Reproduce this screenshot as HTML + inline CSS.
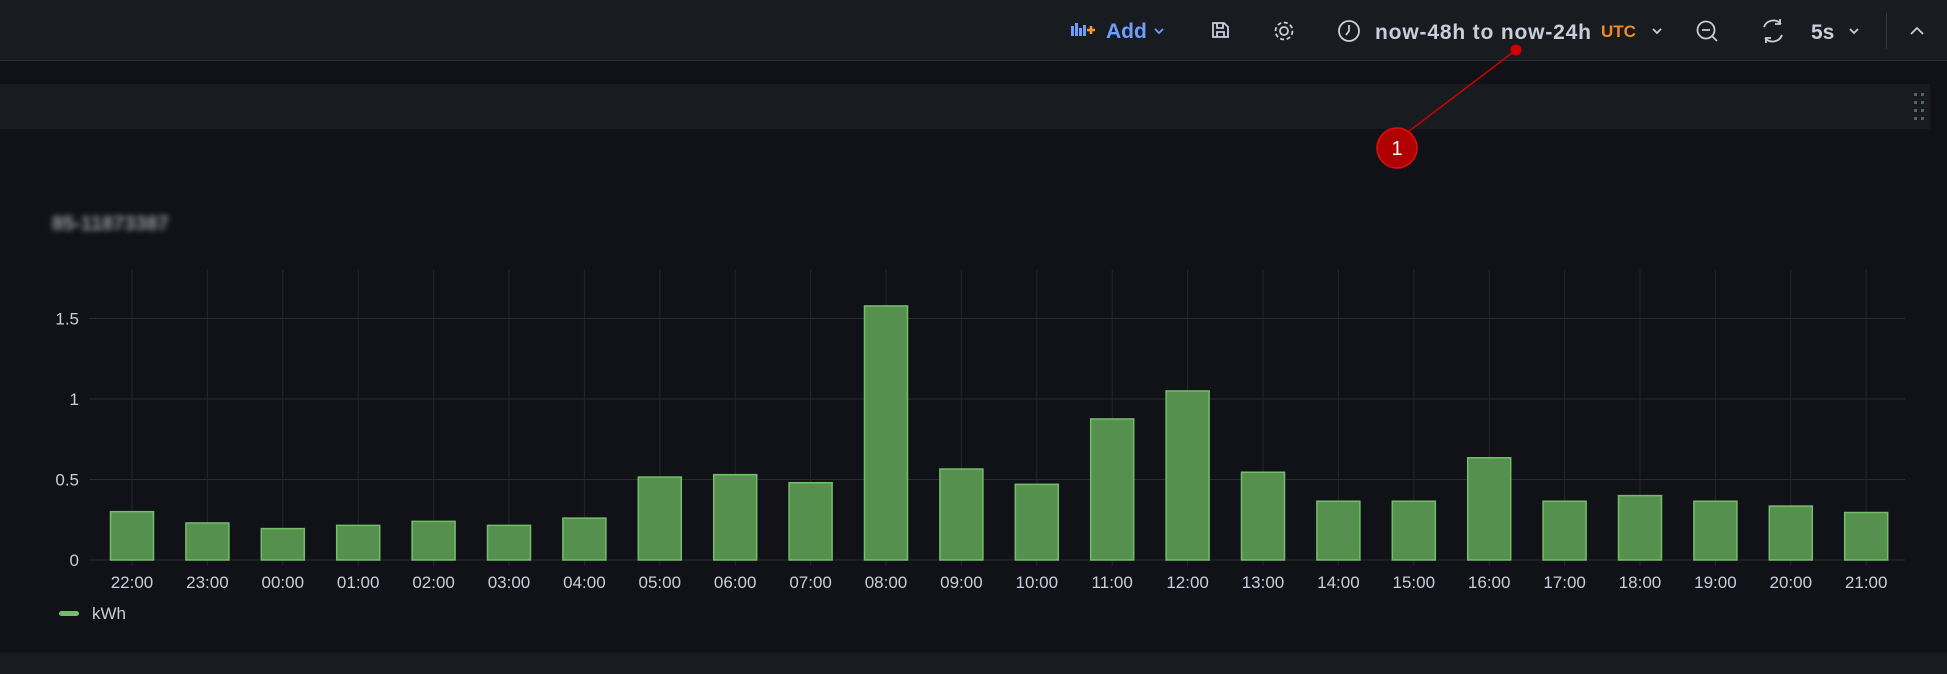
<!DOCTYPE html>
<html><head><meta charset="utf-8"><style>
html,body{margin:0;padding:0;background:#111217;width:1947px;height:674px;overflow:hidden;font-family:"Liberation Sans",sans-serif}
</style></head><body>
<svg id="s" width="1947" height="674" xmlns="http://www.w3.org/2000/svg" font-family="Liberation Sans, sans-serif">
<rect width="1947" height="674" fill="#111217"/>
<rect width="1947" height="60" fill="#181b1f"/>
<rect y="60" width="1947" height="1" fill="#2c2f35"/>
<rect y="84" width="1930" height="45" fill="#181b1f"/>
<rect y="653" width="1947" height="21" fill="#181b1f"/>
<g fill="#5b5f66"><rect x="1914" y="93" width="3" height="3"/><rect x="1921" y="93" width="3" height="3"/><rect x="1914" y="101" width="3" height="3"/><rect x="1921" y="101" width="3" height="3"/><rect x="1914" y="109" width="3" height="3"/><rect x="1921" y="109" width="3" height="3"/><rect x="1914" y="117" width="3" height="3"/><rect x="1921" y="117" width="3" height="3"/></g>
<!-- header -->
<g fill="#6e9fff"><rect x="1071" y="26" width="3" height="10"/><rect x="1075" y="23" width="3" height="13"/><rect x="1079" y="28" width="3" height="8"/><rect x="1083" y="25" width="3" height="11"/></g>
<path d="M1087 30h8M1091 26v8" stroke="#ff9830" stroke-width="2.5"/>
<text x="1106" y="38" font-size="21" fill="#6e9fff" font-weight="bold">Add</text>
<path d="M1155 29l4 4 4-4" stroke="#6e9fff" stroke-width="1.8" fill="none"/>
<g stroke="#ccccdc" stroke-width="1.8" fill="none">
<path d="M1213 23h11l4 4v10h-15z M1217 23v5h6v-5 M1217 37v-5h7v5"/>
<circle cx="1284" cy="31" r="4"/><circle cx="1284" cy="31" r="8.5" stroke-dasharray="4 2.6"/>
<circle cx="1349" cy="31" r="10"/><path d="M1349 25v6l-3 4"/>
<path d="M1653 29l4 4 4-4"/>
<circle cx="1706" cy="30" r="8.5"/><path d="M1702 30h8M1712 36l5 5"/>
<path d="M1764 27a10 10 0 0 1 17 -3M1782 35a10 10 0 0 1 -17 3M1780 19v5h-5M1766 43v-5h5"/>
<path d="M1850 29l4 4 4-4"/>
<path d="M1911 34l6-6 6 6"/>
</g>
<text x="1375" y="39" font-size="21" fill="#ccccdc" font-weight="bold" textLength="216">now-48h to now-24h</text>
<text x="1601" y="37" font-size="17" fill="#f58a1f" font-weight="bold">UTC</text>
<text x="1811" y="39" font-size="21" fill="#ccccdc" font-weight="bold">5s</text>
<rect x="1886" y="13" width="1" height="36" fill="#34373c"/>
<!-- title blurred -->
<defs><filter id="b"><feGaussianBlur stdDeviation="3"/></filter></defs>
<text x="52" y="230" font-size="20" fill="#9a9aa6" font-weight="bold" filter="url(#b)">85-11873387</text>
<g id="chart"></g>
<!-- legend -->
<rect x="59" y="611" width="20" height="5" rx="2.5" fill="#73bf69"/>
<text x="92" y="619" font-size="17" fill="#ccccdc">kWh</text>
<!-- annotation -->
<line x1="1516" y1="50" x2="1404" y2="135" stroke="#c00" stroke-width="1.5"/>
<circle cx="1516" cy="50" r="5.5" fill="#d10000"/>
<circle cx="1397" cy="148" r="20" fill="#b00000" stroke="#e01010" stroke-width="1.5"/>
<text x="1397" y="155" font-size="20" fill="#fff" text-anchor="middle">1</text>
</svg>
<script>
var g=document.getElementById('chart'),h='';
var y0=560,k=161,L=89,R=1905;
h+='<rect x="'+L+'" y="270" width="'+(R-L)+'" height="1" fill="none"/>';
[0,0.5,1,1.5].forEach(function(v){var y=y0-v*k;h+='<line x1="'+L+'" x2="'+R+'" y1="'+y+'" y2="'+y+'" stroke="#2a2c31"/>';
h+='<text x="79" y="'+(y+6)+'" font-size="17" fill="#ccccdc" text-anchor="end">'+v+'</text>';});
var vals=[0.30,0.23,0.195,0.215,0.24,0.215,0.26,0.515,0.53,0.48,1.578,0.565,0.47,0.876,1.05,0.545,0.365,0.365,0.635,0.365,0.40,0.365,0.335,0.295];
var labs=['22','23','00','01','02','03','04','05','06','07','08','09','10','11','12','13','14','15','16','17','18','19','20','21'];
for(var i=0;i<24;i++){var x=132+i*75.4;
h+='<line x1="'+x+'" x2="'+x+'" y1="270" y2="566" stroke="#25272c"/>';}
for(var i=0;i<24;i++){var x=132+i*75.4,t=y0-vals[i]*k;
h+='<rect x="'+(x-21.5)+'" y="'+t+'" width="43" height="'+(y0-t)+'" fill="#56904f" stroke="#73bf69" stroke-width="1.5"/>';
h+='<text x="'+x+'" y="588" font-size="17" fill="#ccccdc" text-anchor="middle">'+labs[i]+':00</text>';}
g.innerHTML=h;
</script>
</body></html>
